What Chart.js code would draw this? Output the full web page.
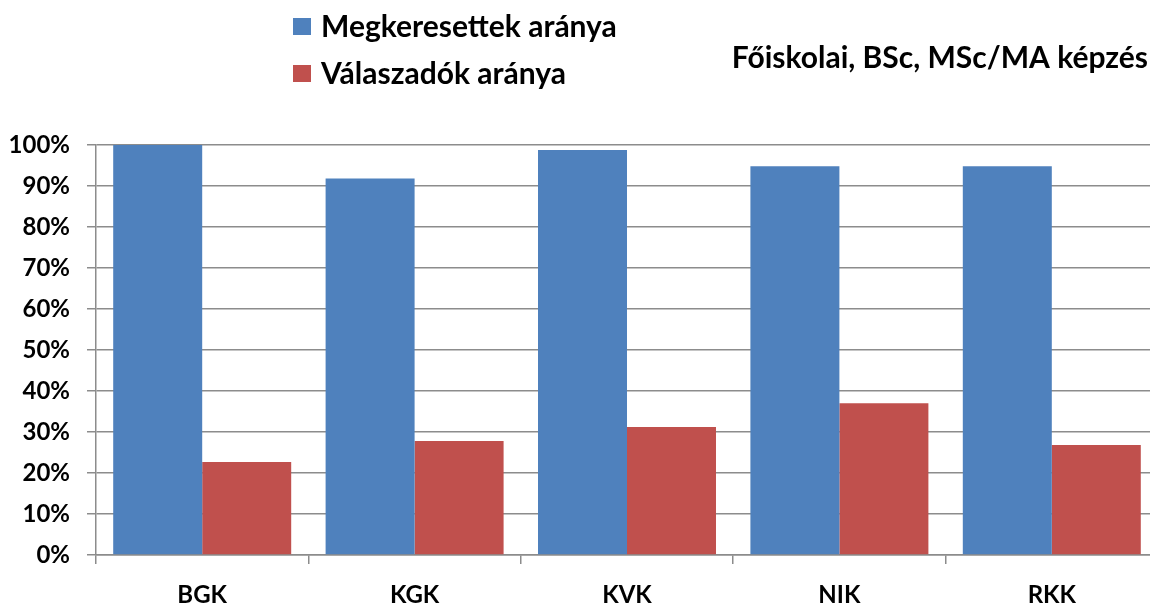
<!DOCTYPE html>
<html>
<head>
<meta charset="utf-8">
<script src="https://cdn.jsdelivr.net/npm/chart.js@4/dist/chart.umd.min.js"></script>
<style>
  html, body { margin: 0; padding: 0; background: #fff; }
  #wrap { width: 1150px; height: 606px; overflow: hidden; position: relative; }
  #box { width: 1160px; height: 606px; }
</style>
</head>
<body>
<div id="wrap"><div id="box"><canvas id="chart"></canvas></div></div>
<script>
// Data
const categories = ['BGK', 'KGK', 'KVK', 'NIK', 'RKK'];
const megkeresettek = [100, 91.8, 98.8, 94.8, 94.8];
const valaszadok = [22.7, 27.8, 31.2, 37.0, 26.8];
const seriesNames = ['Megkeresettek aránya', 'Válaszadók aránya'];
const yTicks = [0, 10, 20, 30, 40, 50, 60, 70, 80, 90, 100];
const chartTitle = 'Főiskolai, BSc, MSc/MA képzés';

const FONT = 'Lato, "Open Sans", sans-serif';

// Legend (stacked) and title drawn on top of the canvas
const headerPlugin = {
  id: 'header',
  afterDraw(chart) {
    const ctx = chart.ctx;
    ctx.save();
    ctx.textBaseline = 'middle';
    const rows = [26, 73];
    chart.data.datasets.forEach((ds, i) => {
      ctx.fillStyle = ds.backgroundColor;
      ctx.fillRect(293, rows[i] - 8, 18, 17);
      ctx.fillStyle = '#000';
      ctx.font = 'bold 30px ' + FONT;
      ctx.textAlign = 'left';
      ctx.fillText(ds.label, 321, rows[i] + 1);
    });
    ctx.fillStyle = '#000';
    ctx.font = 'bold 30px ' + FONT;
    ctx.textAlign = 'right';
    ctx.fillText(chartTitle, 1148, 58);
    ctx.restore();
  }
};

new Chart(document.getElementById('chart'), {
  type: 'bar',
  data: {
    labels: categories,
    datasets: [
      { label: seriesNames[0], data: megkeresettek, backgroundColor: '#4F81BD' },
      { label: seriesNames[1], data: valaszadok, backgroundColor: '#C0504D' }
    ]
  },
  options: {
    responsive: true,
    maintainAspectRatio: false,
    animation: false,
    layout: { padding: { top: 145, right: 2, left: 0, bottom: 0 } },
    datasets: { bar: { categoryPercentage: 0.838, barPercentage: 1.0 } },
    plugins: {
      legend: { display: false },
      title: { display: false },
      tooltip: { enabled: false }
    },
    scales: {
      x: {
        grid: { drawOnChartArea: false, drawTicks: true, tickLength: 9, color: '#8c8c8c', lineWidth: 1.5, offset: true },
        border: { color: '#8c8c8c', width: 1.5 },
        ticks: { color: '#000', font: { family: FONT, size: 24, weight: 'bold' }, padding: 17 },
        afterFit(scale) { scale.height = 51; }
      },
      y: {
        min: 0,
        max: 100,
        afterBuildTicks(scale) { scale.ticks = yTicks.map(v => ({ value: v })); },
        grid: { color: '#8c8c8c', lineWidth: 1.5, tickLength: 9 },
        border: { color: '#8c8c8c', width: 1.5 },
        ticks: {
          color: '#000',
          padding: 17,
          font: { family: FONT, size: 24, weight: 'bold' },
          callback: v => v + '%'
        },
        afterFit(scale) { scale.width = 96; }
      }
    }
  },
  plugins: [headerPlugin]
});
</script>
</body>
</html>
